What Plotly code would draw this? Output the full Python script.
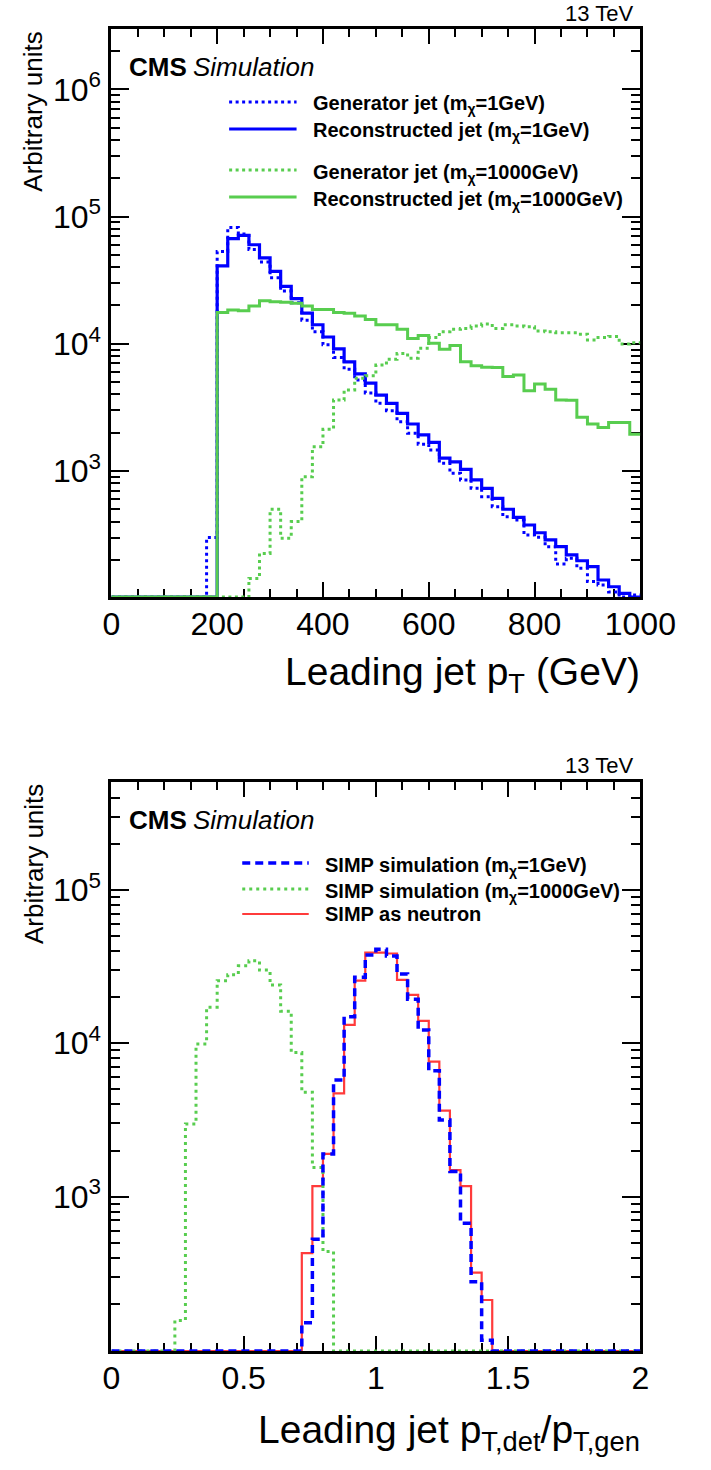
import numpy as np
import plotly.graph_objects as go

W, H = 711, 1470
FONT = "Liberation Sans, Arial, Helvetica, sans-serif"

# ---------------- data ----------------
# top panel: leading jet pT, 20 GeV bins from 0 to 1000 GeV
pt_edges = np.linspace(0, 1000, 51)
gen_1gev = [0, 0, 0, 0, 0, 0, 0, 0, 0, 300,
            5.3e4, 8.2e4, 7.3e4, 5.5e4, 4.4e4, 3.3e4, 2.6e4, 2.1e4, 1.53e4, 1.24e4,
            9.8e3, 7.8e3, 6.3e3, 5.2e3, 4.1e3, 3.4e3, 2.98e3, 2.44e3, 1.98e3, 1.62e3,
            1.46e3, 1.15e3, 960, 850, 731, 628, 524, 437, 412, 314,
            301, 254, 186, 206, 172, 135, 127, 112, 100, 106]
reco_1gev = [0, 0, 0, 0, 0, 0, 0, 0, 0, 0,
             4.1e4, 6.7e4, 7.1e4, 6.0e4, 4.74e4, 3.7e4, 2.83e4, 2.26e4, 1.74e4, 1.41e4,
             1.13e4, 9.1e3, 7.2e3, 5.8e3, 4.9e3, 3.95e3, 3.4e3, 2.84e3, 2.34e3, 1.92e3,
             1.68e3, 1.26e3, 1.18e3, 1.03e3, 850, 731, 610, 500, 432, 376,
             327, 287, 254, 219, 197, 177, 139, 123, 109, 98]
gen_1000gev = [0, 0, 0, 0, 0, 0, 0, 0, 0, 0,
               0, 0, 0, 143, 225, 500, 296, 400, 900, 1550,
               2130, 3610, 4330, 5350, 5600, 6800, 7550, 8400, 7700, 9200,
               1.12e4, 1.24e4, 1.3e4, 1.32e4, 1.38e4, 1.43e4, 1.32e4, 1.41e4, 1.38e4, 1.36e4,
               1.26e4, 1.24e4, 1.22e4, 1.22e4, 1.19e4, 1.07e4, 1.12e4, 1.14e4, 9.96e3, 1.02e4]
reco_1000gev = [0, 0, 0, 0, 0, 0, 0, 0, 0, 0,
                1.76e4, 1.84e4, 1.82e4, 1.98e4, 2.18e4, 2.14e4, 2.12e4, 2.08e4, 1.98e4, 1.86e4,
                1.86e4, 1.76e4, 1.74e4, 1.65e4, 1.55e4, 1.41e4, 1.41e4, 1.3e4, 1.1e4, 1.16e4,
                1.01e4, 9.05e3, 9.67e3, 7.23e3, 6.73e3, 6.53e3, 6.5e3, 5.52e3, 5.68e3, 4.28e3,
                4.83e3, 4.39e3, 3.61e3, 3.6e3, 2.64e3, 2.34e3, 2.2e3, 2.4e3, 2.4e3, 1.94e3]

# bottom panel: pT,det / pT,gen, bins of 0.04 from 0 to 2
ratio_edges = np.linspace(0, 2, 51)
ratio_1gev = [0] * 18 + [151, 527, 1.9e3, 5.76e3, 1.49e4, 2.69e4, 3.76e4, 4.1e4, 3.71e4, 2.83e4,
                         1.94e4, 1.22e4, 6.63e3, 3.16e3, 1.46e3, 671, 279, 116] + [0] * 14
ratio_1000gev = [0] * 6 + [156, 2.98e3, 9.9e3, 1.72e4, 2.56e4, 2.8e4, 3.2e4, 3.45e4, 3.0e4, 2.4e4,
                           1.62e4, 8.7e3, 4.8e3, 1.55e3, 440] + [0] * 29
ratio_neutron = [0] * 18 + [428, 1.17e3, 1.9e3, 4.72e3, 1.32e4, 2.56e4, 3.9e4, 3.9e4, 3.85e4, 2.59e4,
                            2.07e4, 1.4e4, 7.6e3, 3.64e3, 1.49e3, 1.17e3, 320, 212] + [0] * 14

top_xticks = [0, 200, 400, 600, 800, 1000]
bot_xticks = [0, 0.5, 1, 1.5, 2]
bot_xticktext = ["0", "0.5", "1", "1.5", "2"]
top_yticks = [1e3, 1e4, 1e5, 1e6]
top_yticktext = ["10<sup>3</sup>", "10<sup>4</sup>", "10<sup>5</sup>", "10<sup>6</sup>"]
bot_yticks = [1e3, 1e4, 1e5]
bot_yticktext = ["10<sup>3</sup>", "10<sup>4</sup>", "10<sup>5</sup>"]

# ---------------- geometry (page pixels) ----------------
X0, X1 = 109.3, 674.0
TT, TB = 29.3, 597.0
BT, BB = 781.7, 1351.0
TOP_RANGE = [2.0094, 6.4717]
BOT_RANGE = [1.994, 5.7053]


def px(p):
    return p / W


def py(p):
    return 1 - p / H


BLUE = "#0000ff"
GREEN = "#58cd4f"
RED = "#ff3b3b"


def step_y(vals, floor_log):
    v = np.maximum(np.asarray(vals, float), 10 ** floor_log)
    return np.append(v, v[-1])


fig = go.Figure()

top_series = [
    (gen_1gev, BLUE, "3px,3.5px", 3),
    (reco_1gev, BLUE, "solid", 3.2),
    (gen_1000gev, GREEN, "3px,3.5px", 3),
    (reco_1000gev, GREEN, "solid", 3),
]
for vals, col, dash, w in top_series:
    fig.add_trace(go.Scatter(x=pt_edges, y=step_y(vals, TOP_RANGE[0]), mode="lines",
                             line=dict(shape="hv", color=col, dash=dash, width=w),
                             xaxis="x", yaxis="y", showlegend=False, hoverinfo="skip"))

bot_series = [
    (ratio_neutron, RED, "solid", 2.2),
    (ratio_1000gev, GREEN, "3px,4px", 3),
    (ratio_1gev, BLUE, "8px,5px", 3.5),
]
for vals, col, dash, w in bot_series:
    fig.add_trace(go.Scatter(x=ratio_edges, y=step_y(vals, BOT_RANGE[0]), mode="lines",
                             line=dict(shape="hv", color=col, dash=dash, width=w),
                             xaxis="x2", yaxis="y2", showlegend=False, hoverinfo="skip"))

axis_common = dict(showline=True, linecolor="black", linewidth=3, mirror="allticks",
                   ticks="inside", tickcolor="black", showgrid=False, zeroline=False,
                   layer="below traces")
xfont = dict(family=FONT, size=32, color="black")
yfont = dict(family=FONT, size=32, color="black")


def log_minor(lo, hi):
    vals = []
    for e in range(lo, hi + 1):
        for d in range(2, 10):
            vals.append(d * 10 ** e)
    return vals


fig.update_layout(
    width=W, height=H, autosize=False,
    margin=dict(l=0, r=0, t=0, b=0),
    paper_bgcolor="white", plot_bgcolor="white",
    xaxis=dict(axis_common, domain=[px(X0), px(X1)], anchor="y", range=[0, 1000],
               tickmode="array", tickvals=top_xticks, ticklen=15, tickwidth=2, tickfont=xfont,
               minor=dict(tickmode="array", tickvals=[v for v in range(50, 1000, 50) if v % 200],
                          ticks="inside", ticklen=8, tickwidth=2, tickcolor="black"),
               ticklabelstandoff=-3),
    yaxis=dict(axis_common, domain=[py(TB), py(TT)], anchor="x", type="log", range=TOP_RANGE,
               tickmode="array", tickvals=top_yticks, ticktext=top_yticktext,
               ticklen=18, tickwidth=2, tickfont=yfont,
               minor=dict(tickmode="array", tickvals=log_minor(2, 6),
                          ticks="inside", ticklen=9, tickwidth=2, tickcolor="black"),
               ticklabelstandoff=1),
    xaxis2=dict(axis_common, domain=[px(X0), px(X1)], anchor="y2", range=[0, 2],
                tickmode="array", tickvals=bot_xticks, ticktext=bot_xticktext,
                ticklen=15, tickwidth=2, tickfont=xfont,
                minor=dict(tickmode="array",
                           tickvals=[0.1, 0.2, 0.3, 0.4, 0.6, 0.7, 0.8, 0.9, 1.1, 1.2, 1.3, 1.4,
                                     1.6, 1.7, 1.8, 1.9],
                           ticks="inside", ticklen=8, tickwidth=2, tickcolor="black"),
                ticklabelstandoff=-3),
    yaxis2=dict(axis_common, domain=[py(BB), py(BT)], anchor="x2", type="log", range=BOT_RANGE,
                tickmode="array", tickvals=bot_yticks, ticktext=bot_yticktext,
                ticklen=18, tickwidth=2, tickfont=yfont,
                minor=dict(tickmode="array", tickvals=log_minor(1, 5),
                           ticks="inside", ticklen=9, tickwidth=2, tickcolor="black"),
                ticklabelstandoff=1),
)

annotations = []
shapes = []


def add_text(x, y, s, size, xanchor="left", yanchor="middle", angle=0):
    annotations.append(dict(x=px(x), y=py(y), xref="paper", yref="paper", text=s,
                            showarrow=False, xanchor=xanchor, yanchor=yanchor,
                            textangle=angle, font=dict(family=FONT, size=size, color="black")))


for top in (TT, BT):
    add_text(668, top - 16, "13 TeV", 22, xanchor="right")
    add_text(126, top + 38, "<b>CMS</b>", 26)
    add_text(194, top + 38, "<i>Simulation</i>", 26)
    add_text(26, top, "Arbitrary units", 26, xanchor="center", yanchor="top", angle=-90)

top_legend = [
    ("<b>Generator jet (m<sub>χ</sub>=1GeV)</b>", BLUE, "3px,3.5px", 3, 102),
    ("<b>Reconstructed jet (m<sub>χ</sub>=1GeV)</b>", BLUE, "solid", 3.2, 129),
    ("<b>Generator jet (m<sub>χ</sub>=1000GeV)</b>", GREEN, "3px,3.5px", 3, 170),
    ("<b>Reconstructed jet (m<sub>χ</sub>=1000GeV)</b>", GREEN, "solid", 3, 197),
]
for label, col, dash, w, yy in top_legend:
    shapes.append(dict(type="line", xref="paper", yref="paper", x0=px(235), x1=px(307),
                       y0=py(yy), y1=py(yy), line=dict(color=col, dash=dash, width=w)))
    add_text(322, yy + 3, label, 20)

bot_legend = [
    ("<b>SIMP simulation (m<sub>χ</sub>=1GeV)</b>", BLUE, "8px,5px", 3.5, 863),
    ("<b>SIMP simulation (m<sub>χ</sub>=1000GeV)</b>", GREEN, "3px,4px", 3, 889),
    ("<b>SIMP as neutron</b>", RED, "solid", 2.2, 914),
]
for label, col, dash, w, yy in bot_legend:
    shapes.append(dict(type="line", xref="paper", yref="paper", x0=px(249), x1=px(320),
                       y0=py(yy), y1=py(yy), line=dict(color=col, dash=dash, width=w)))
    add_text(335, yy + (3 if "sub" in label else 0), label, 20)

add_text(676, 674, "Leading jet p<sub>T</sub> (GeV)", 39, xanchor="right")
add_text(676, 1432, "Leading jet p<sub>T,det</sub>/p<sub>T,gen</sub>", 39, xanchor="right")

fig.update_layout(annotations=annotations, shapes=shapes)

# place the figure at the very top-left of the page (no default body margin), no mode bar
fig.write_html("out.html",
               config={"displayModeBar": False, "staticPlot": True},
               post_script="document.body.style.margin='0px';document.body.style.overflow='hidden';")
